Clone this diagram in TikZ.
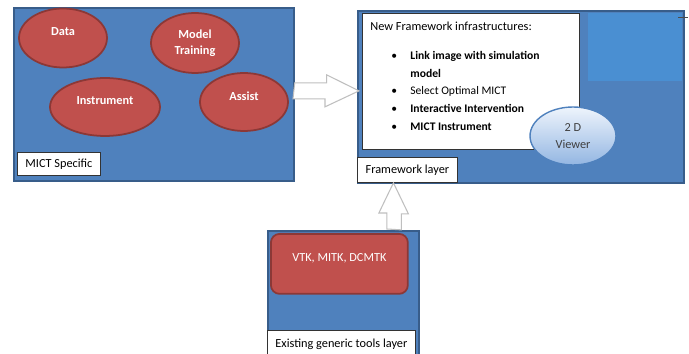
\documentclass[tikz,border=0pt]{standalone}
\usepackage{fontspec}
\setmainfont{Carlito}
\usetikzlibrary{shapes.geometric,calc}

\definecolor{panelblue}{HTML}{4F81BD}
\definecolor{paneledge}{HTML}{385D8A}
\definecolor{boxred}{HTML}{C0504D}
\definecolor{rededge}{HTML}{8C3836}
\definecolor{skyblue}{HTML}{4A8FD2}
\definecolor{viewertop}{HTML}{EEF4FC}
\definecolor{viewerbot}{HTML}{93B6E2}

\begin{document}
\begin{tikzpicture}[x=0.02cm, y=-0.02cm,
	panel/.style={draw=paneledge, line width=1pt, fill=panelblue, anchor=north west, inner sep=0pt},
	blob/.style={ellipse, draw=rededge, line width=1pt, fill=boxred, text=white, font=\fontsize{7}{9}\selectfont\bfseries, align=center, inner sep=0pt},
	lift/.style={text depth=7pt},
	tag/.style={draw=black!80, line width=0.5pt, fill=white, anchor=north west, inner sep=0pt, font=\fontsize{7}{9}\selectfont},
	line/.style={anchor=west, inner sep=0pt, font=\fontsize{6.6}{9}\selectfont, text height=1.6ex, text depth=0.4ex},
	strong/.style={line, font=\fontsize{6.6}{9}\selectfont\bfseries},
	hollow/.style={draw=black!25, fill=white, line width=0.6pt}]
				
				\useasboundingbox (0,0) rectangle (689,354);
				
				%MICT panel
				\node[panel, minimum width=5.6cm, minimum height=3.46cm] (mict) at (13,7) {};
				\node[blob, lift, minimum width=1.76cm, minimum height=1.18cm] (data) at (63,38) {Data};
				\node[blob, minimum width=1.76cm, minimum height=1.2cm] (training) at (195,43) {Model\\Training};
				\node[blob, lift, minimum width=2.2cm, minimum height=1.16cm] (instrument) at (105,107) {Instrument};
				\node[blob, lift, minimum width=1.76cm, minimum height=1.16cm] (assist) at (244,102) {Assist};
				\node[tag, minimum width=1.66cm, minimum height=0.46cm] (specific) at (17,152) {MICT Specific};
				
				%Framework panel
				\node[panel, minimum width=6.52cm, minimum height=3.44cm] (frame) at (357,10) {};
				\fill[skyblue] (588,13) rectangle (682,81);
				\draw[black!70, line width=0.4pt] (678,17) -- (688,17);
				\node[tag, minimum width=4.34cm, minimum height=2.72cm] (infra) at (362,13) {};
				
				%Framework list
				\node[line, font=\fontsize{7}{9}\selectfont] (head) at (370,25) {New Framework infrastructures:};
				\node[line] (b1) at (391,54) {\textbullet};
				\node[strong] (l1) at (410,54) {Link image with simulation};
				\node[strong] (l1b) at (410,72) {model};
				\node[line] (b2) at (391,89) {\textbullet};
				\node[line] (l2) at (410,89) {Select Optimal MICT};
				\node[line] (b3) at (391,107) {\textbullet};
				\node[strong] (l3) at (410,107) {Interactive Intervention};
				\node[line] (b4) at (391,125) {\textbullet};
				\node[strong] (l4) at (410,125) {MICT Instrument};
				
				\node[ellipse, draw=panelblue, line width=0.8pt, top color=viewertop, bottom color=viewerbot, minimum width=1.72cm, minimum height=1.16cm, inner sep=0pt, align=center, text=black!75, font=\fontsize{7}{9.6}\selectfont] (viewer) at (573,136) {2 D\\Viewer};
				\node[tag, minimum width=2cm, minimum height=0.5cm] (fwlayer) at (357,157) {Framework layer};
				
				%Tools panel
				\node[panel, minimum width=3.02cm, minimum height=2.7cm] (tools) at (267,230) {};
				\node[draw=rededge, line width=1pt, fill=boxred, rounded corners=5pt, anchor=north west, minimum width=2.74cm, minimum height=1.2cm, text=white, lift, font=\fontsize{7}{9}\selectfont] (libs) at (270,233) {VTK, MITK, DCMTK};
				\node[tag, text depth=3.5pt, minimum width=2.96cm, minimum height=0.62cm] (generic) at (267,330) {Existing generic tools layer};
				
				%Arrows
				\draw[hollow] ($(mict.east)+(0,-11.5)$) -- ++(32,0) -- ++(0,-8) -- ($(frame.west)+(2,-6)$) -- ++(-34,16) -- ++(0,-8) -- ++(-32,0) -- cycle;
				\draw[hollow] ($(fwlayer.south)+(-14,0)$) -- ++(15,31) -- ++(-7,0) -- ++(0,16) -- ($(tools.north)+(43.5,-1)$) -- ++(0,-16) -- ++(-8,0) -- cycle;
			\end{tikzpicture}
\end{document}
